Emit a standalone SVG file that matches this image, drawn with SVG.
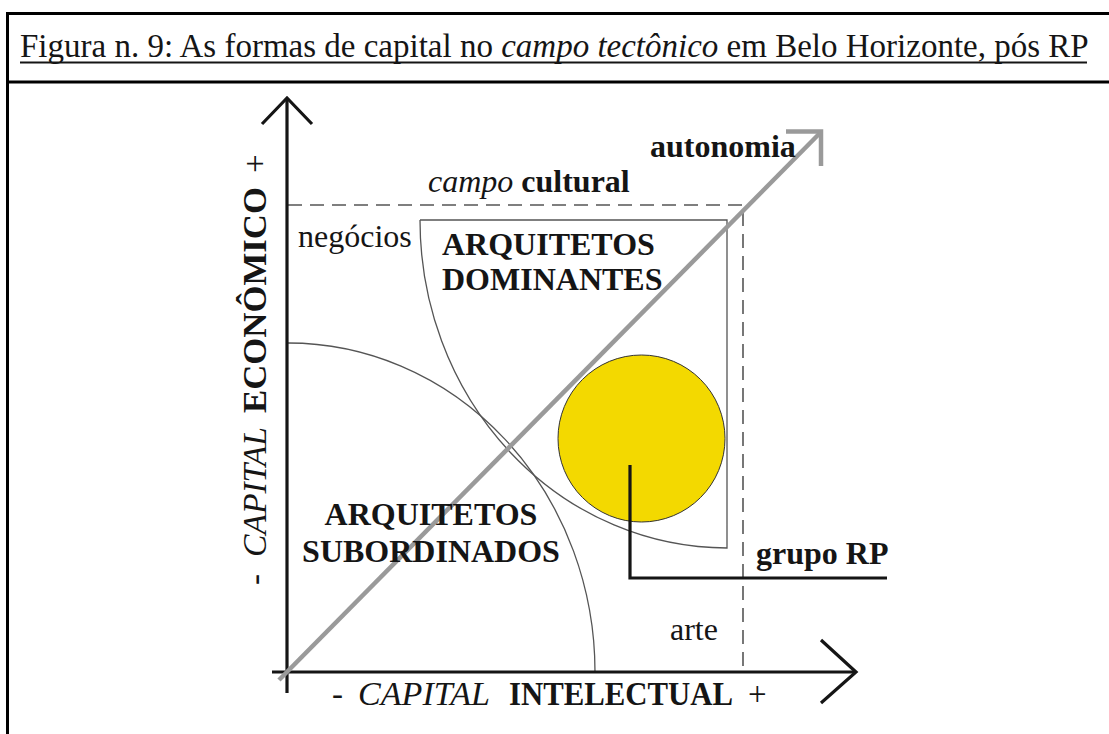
<svg xmlns="http://www.w3.org/2000/svg" width="1109" height="734" viewBox="0 0 1109 734">
<style>
text{font-family:"Liberation Serif","Times New Roman",serif;fill:#151515}
.t{font-size:33px}
.l{font-size:32px}
.ax{font-size:33px}
.b{font-weight:bold}
.i{font-style:italic}
.frame{stroke:#000;stroke-width:3;fill:none}
.axis{stroke:#151515;stroke-width:3.2;fill:none}
.dash{stroke:#555;stroke-width:1.6;stroke-dasharray:14 8;fill:none}
.thin{stroke:#555;stroke-width:1.3;fill:none}
.auto{stroke:#9a9a9a;stroke-width:4.5;fill:none}
</style>
<rect width="1109" height="734" fill="#fff"/>
<g id="frame">
<line class="frame" x1="7.5" y1="12" x2="7.5" y2="734"/>
<line class="frame" x1="6" y1="13.5" x2="1109" y2="13.5"/>
<line class="frame" x1="6" y1="82" x2="1109" y2="82"/>
</g>
<g id="title">
<text class="t" x="20" y="57">Figura n. 9: As formas de capital no <tspan class="i">campo tectônico</tspan> em Belo Horizonte, pós RP</text>
<line x1="20" y1="62.5" x2="1087" y2="62.5" stroke="#151515" stroke-width="2"/>
</g>
<g id="regions">
<g id="dominantes-region"><path class="thin" d="M420,220 L727,220 L727,548 A307,328 0 0 1 420,220"/></g>
<g id="subordinados-region"><path class="thin" d="M288,343 A307,329 0 0 1 595,672"/></g>
<g id="campo-cultural-box"><path class="dash" d="M288,205 L743,205 L743,672"/></g>
</g>
<g id="grupo-rp-circle"><circle cx="641.5" cy="438.5" r="83.5" fill="#f3d900" stroke="#333" stroke-width="1"/></g>
<g id="connectors">
<g id="axis-y"><line class="axis" x1="287" y1="693" x2="287" y2="98"/><polyline class="axis" points="262,124 287,98 312,124"/></g>
<g id="axis-x"><line class="axis" x1="272" y1="672" x2="856" y2="672"/><polyline class="axis" points="821,640 856,672 821,703"/></g>
<g id="autonomia-arrow"><line class="auto" x1="279" y1="680" x2="820" y2="133"/><polyline class="auto" points="786,131.5 821,131.5 821,166"/></g>
<g id="grupo-rp-leader"><polyline class="axis" points="630,465 630,578 887,578"/></g>
</g>
<g id="labels">
<text class="l b" x="650" y="157">autonomia</text>
<text class="l" x="428" y="192"><tspan class="i">campo</tspan> <tspan class="b">cultural</tspan></text>
<text class="l" x="298" y="247">negócios</text>
<g id="dominantes"><text class="l b" x="442" y="255">ARQUITETOS</text><text class="l b" x="442" y="290">DOMINANTES</text></g>
<g id="subordinados"><text class="l b" x="431" y="525" text-anchor="middle">ARQUITETOS</text><text class="l b" x="431" y="562" text-anchor="middle">SUBORDINADOS</text></g>
<text class="l b" x="756" y="564">grupo RP</text>
<text class="l" x="670" y="640">arte</text>
<g id="x-label"><text class="ax" x="332" y="705">-</text><text class="ax i" x="358" y="705" textLength="132" lengthAdjust="spacingAndGlyphs">CAPITAL</text><text class="ax b" x="509" y="705" textLength="224" lengthAdjust="spacingAndGlyphs">INTELECTUAL</text><text class="ax" x="748" y="705">+</text></g>
<g id="y-label">
<text class="ax" transform="translate(266,585) rotate(-90)">-</text>
<text class="ax i" transform="translate(266,557) rotate(-90)" textLength="130" lengthAdjust="spacingAndGlyphs">CAPITAL</text>
<text class="ax b" transform="translate(266,413) rotate(-90)" textLength="226" lengthAdjust="spacingAndGlyphs">ECONÔMICO</text>
<text class="ax" transform="translate(266,173) rotate(-90)">+</text>
</g>
</g>
</svg>
